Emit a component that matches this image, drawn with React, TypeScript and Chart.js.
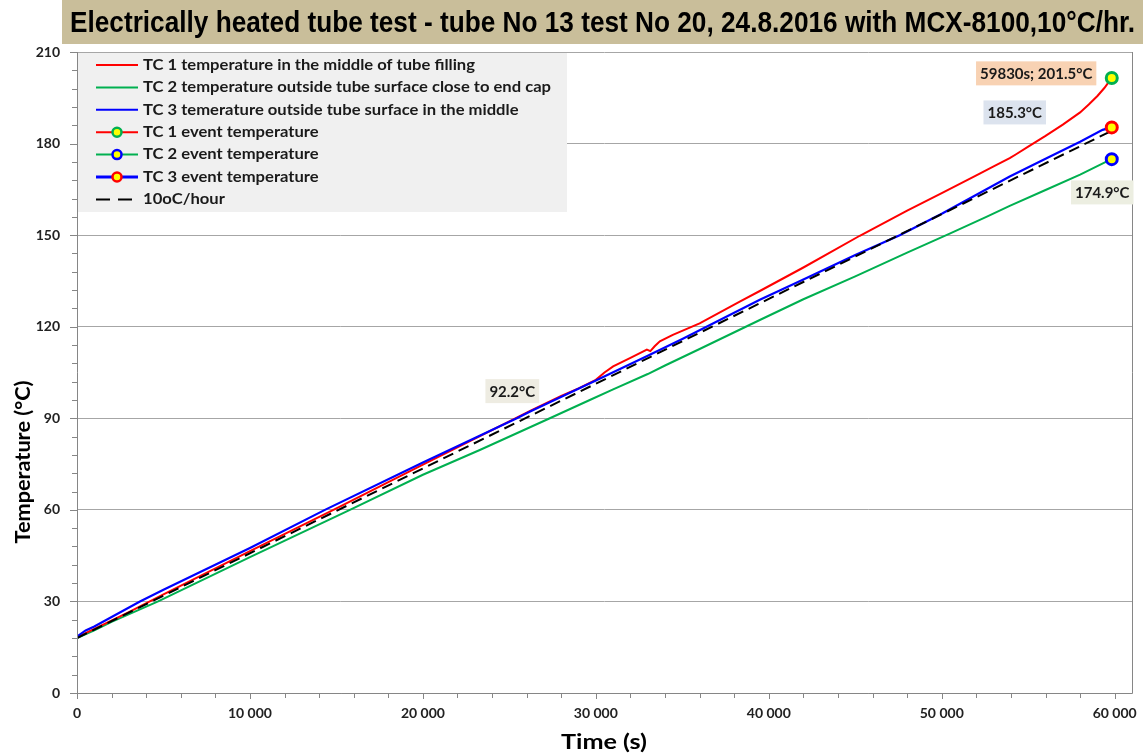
import React, { useEffect, useRef } from "react";
import { Chart, registerables } from "chart.js";

Chart.register(...registerables);

// ---------- data ----------
const TITLE = "Electrically heated tube test - tube No 13 test No 20, 24.8.2016 with MCX-8100,10°C/hr.";
const X_TITLE = "Time (s)";
const Y_TITLE = "Temperature (°C)";

const X_MIN = 0;
const X_MAX = 61000;
const X_TICKS = [0, 10000, 20000, 30000, 40000, 50000, 60000];
const X_MINOR = 2000;
const Y_MIN = 0;
const Y_MAX = 210;
const Y_TICKS = [0, 30, 60, 90, 120, 150, 180, 210];
const Y_MINOR = 6;

const TC1_TIME = [0, 1000, 3000, 5000, 10000, 15000, 20000, 25000, 26200, 28000, 29000, 30000, 30500, 31000, 32000, 32950, 33150, 33400, 33700, 34450, 36000, 38320, 39480, 42000, 45260, 48000, 50000, 52000, 53000, 53930, 54300, 55000, 56000, 57000, 58000, 58500, 59000, 59400, 59830];
const TC1_TEMP = [18.2, 21, 26.5, 32.3, 46.5, 60.5, 74.8, 89, 92.4, 97.3, 99.8, 102.6, 105, 107, 109.8, 112.5, 112.0, 113.6, 115.2, 117.3, 121.1, 128.2, 131.7, 139.4, 149.8, 158, 163.8, 169.6, 172.5, 175.2, 176.5, 179, 182.5, 186.2, 190.2, 192.8, 195.6, 198.2, 201.5];

const TC2_TIME = [0, 1000, 2000, 4690, 10000, 15780, 20000, 23290, 27340, 29650, 31000, 33000, 34000, 36000, 39480, 42000, 45000, 48000, 50460, 52580, 53930, 56000, 58000, 59520, 59830];
const TC2_TEMP = [18, 20.5, 23.3, 30, 44.5, 60, 71.5, 79.6, 90, 96, 99.5, 104.5, 107.3, 112.7, 122.2, 129, 136.5, 144.3, 150.5, 156, 159.6, 164.8, 169.8, 174.1, 174.9];

const TC3_TIME = [0, 500, 1000, 3640, 5000, 10000, 14335, 20000, 25430, 26200, 30000, 33000, 35000, 39480, 42000, 45000, 47570, 50000, 53930, 56000, 58000, 59300, 59830];
const TC3_TEMP = [18.5, 20.5, 21.8, 30, 33.8, 47.5, 60, 75.5, 90, 92.2, 102.4, 110.5, 116, 128.8, 135.5, 143.5, 150, 157, 169.2, 175, 180.6, 184.5, 185.3];

const EVENT_TIME = [59830];
const TC1_EVENT = [201.5];
const TC2_EVENT = [174.9];
const TC3_EVENT = [185.3];

const RATE_TIME = [0, 59830];
const RATE_TEMP = [18, 184.2];

const LEGEND_LABELS = [
  "TC 1 temperature in the middle of tube filling",
  "TC 2 temperature outside tube surface close to end cap",
  "TC 3 temerature outside tube surface in the middle",
  "TC 1 event temperature",
  "TC 2 event temperature",
  "TC 3 event temperature",
  "10oC/hour",
];

const NOTE_TEXTS = ["59830s; 201.5°C", "185.3°C", "174.9°C", "92.2°C"];
const NOTE_X = [55460, 54220, 59280, 25170];
const NOTE_Y = [203.0, 190.2, 164.0, 98.9];

// ---------- styles ----------
const RED = "#ff0000";
const GREEN = "#00b050";
const BLUE = "#0000ff";
const YELLOW = "#ffff00";
const NOTE_COLORS = ["#f8d2b3", "#dce3ee", "#eceee1", "#eeece2"];
const FONT = "Lato, 'Open Sans', sans-serif";

const pts = (xs: number[], ys: number[]) => xs.map((x, i) => ({ x, y: ys[i] }));
const fmt = (v: number) => String(v).replace(/\B(?=(\d{3})+(?!\d))/g, " ");

function fitText(ctx: CanvasRenderingContext2D, text: string, x: number, y: number, font: string, targetW: number, align: CanvasTextAlign) {
  ctx.save();
  ctx.font = font;
  const w = ctx.measureText(text).width;
  const sx = targetW / w;
  ctx.translate(x, y);
  ctx.scale(sx, 1);
  ctx.textAlign = align;
  ctx.fillText(text, 0, 0);
  ctx.restore();
}

const decor = {
  id: "decor",
  beforeDraw(chart: any) {
    const ctx: CanvasRenderingContext2D = chart.ctx;
    ctx.save();
    ctx.fillStyle = "#ffffff";
    ctx.fillRect(0, 0, chart.width, chart.height);
    ctx.fillStyle = "#c9be9a";
    ctx.fillRect(62, 0, chart.width - 62, 44);
    ctx.fillStyle = "#000000";
    ctx.textBaseline = "alphabetic";
    fitText(ctx, TITLE, 70, 32, "bold 29px 'Liberation Sans Narrow', 'Liberation Sans', Arial, sans-serif", 1065, "left");
    ctx.restore();
  },
  afterDraw(chart: any) {
    const ctx: CanvasRenderingContext2D = chart.ctx;
    const xs = chart.scales.x;
    const ys = chart.scales.y;
    const a = chart.chartArea;
    ctx.save();
    // axis lines & border
    ctx.strokeStyle = "#868686";
    ctx.lineWidth = 1;
    ctx.beginPath();
    ctx.moveTo(a.left + 0.5, a.top);
    ctx.lineTo(a.left + 0.5, a.bottom + 0.5);
    ctx.lineTo(a.right + 0.5, a.bottom + 0.5);
    ctx.moveTo(a.right + 0.5, a.top);
    ctx.lineTo(a.right + 0.5, a.bottom + 0.5);
    // ticks
    for (let v = Y_MIN; v <= Y_MAX; v += Y_MINOR) {
      const y = Math.round(ys.getPixelForValue(v)) + 0.5;
      const len = v % 30 === 0 ? 7 : 5;
      ctx.moveTo(a.left - len, y);
      ctx.lineTo(a.left, y);
    }
    for (let v = X_MIN; v <= X_TICKS[X_TICKS.length - 1]; v += X_MINOR) {
      const x = Math.round(xs.getPixelForValue(v)) + 0.5;
      const len = v % 10000 === 0 ? 6 : 5;
      ctx.moveTo(x, a.bottom);
      ctx.lineTo(x, a.bottom + len);
    }
    ctx.stroke();

    // axis titles
    ctx.fillStyle = "#000000";
    ctx.textBaseline = "middle";
    fitText(ctx, X_TITLE, 604, 742, `bold 21px ${FONT}`, 86, "center");
    ctx.save();
    ctx.translate(23, 462);
    ctx.rotate(-Math.PI / 2);
    fitText(ctx, Y_TITLE, 0, 0, `bold 21px ${FONT}`, 163, "center");
    ctx.restore();

    // legend
    const lx = 78, ly = 53, lw = 489, lh = 159;
    ctx.fillStyle = "#f0f0f0";
    ctx.fillRect(lx, ly, lw, lh);
    ctx.font = `bold 15px ${FONT}`;
    const sx = 332 / ctx.measureText(LEGEND_LABELS[0]).width;
    const lineCols = [RED, GREEN, BLUE, RED, GREEN, BLUE, "#000000"];
    const mkBorder = [null, null, null, GREEN, BLUE, RED, null];
    LEGEND_LABELS.forEach((lab, i) => {
      const cy = 65 + i * 22.4;
      ctx.strokeStyle = lineCols[i];
      ctx.lineWidth = i === 5 ? 3 : 2;
      ctx.beginPath();
      if (i === 6) {
        ctx.setLineDash([14, 8]);
        ctx.moveTo(96, cy);
        ctx.lineTo(133, cy);
      } else {
        ctx.setLineDash([]);
        ctx.moveTo(96, cy);
        ctx.lineTo(138, cy);
      }
      ctx.stroke();
      ctx.setLineDash([]);
      if (mkBorder[i]) {
        ctx.beginPath();
        ctx.arc(117, cy, 4.5, 0, Math.PI * 2);
        ctx.fillStyle = YELLOW;
        ctx.fill();
        ctx.lineWidth = 2.5;
        ctx.strokeStyle = mkBorder[i] as string;
        ctx.stroke();
      }
      ctx.fillStyle = "#1a1a1a";
      ctx.save();
      ctx.translate(143, cy);
      ctx.scale(sx, 1);
      ctx.textAlign = "left";
      ctx.textBaseline = "middle";
      ctx.fillText(lab, 0, 0);
      ctx.restore();
    });

    // annotations
    ctx.font = `bold 15px ${FONT}`;
    NOTE_TEXTS.forEach((t, i) => {
      const cx = xs.getPixelForValue(NOTE_X[i]);
      const cy = ys.getPixelForValue(NOTE_Y[i]);
      const w = ctx.measureText(t).width + 8;
      const h = 24;
      ctx.fillStyle = NOTE_COLORS[i];
      ctx.fillRect(cx - w / 2, cy - h / 2, w, h);
      ctx.fillStyle = "#1a1a1a";
      ctx.textAlign = "center";
      ctx.textBaseline = "middle";
      ctx.fillText(t, cx, cy + 1);
    });
    ctx.restore();
  },
};

export default function App() {
  const ref = useRef<HTMLCanvasElement | null>(null);
  useEffect(() => {
    document.body.style.margin = "0";
    Chart.defaults.font.family = FONT;
    const chart = new Chart(ref.current as HTMLCanvasElement, {
      type: "line",
      data: {
        datasets: [
          { label: LEGEND_LABELS[3], data: pts(EVENT_TIME, TC1_EVENT), showLine: false, pointRadius: 5.5, pointBackgroundColor: YELLOW, pointBorderColor: GREEN, pointBorderWidth: 3, borderColor: RED, order: 0 },
          { label: LEGEND_LABELS[4], data: pts(EVENT_TIME, TC2_EVENT), showLine: false, pointRadius: 5.5, pointBackgroundColor: YELLOW, pointBorderColor: BLUE, pointBorderWidth: 3, borderColor: GREEN, order: 0 },
          { label: LEGEND_LABELS[5], data: pts(EVENT_TIME, TC3_EVENT), showLine: false, pointRadius: 5.5, pointBackgroundColor: YELLOW, pointBorderColor: RED, pointBorderWidth: 3, borderColor: BLUE, order: 0 },
          { label: LEGEND_LABELS[6], data: pts(RATE_TIME, RATE_TEMP), borderColor: "#000000", borderWidth: 2, borderDash: [11, 6], pointRadius: 0, order: 1 },
          { label: LEGEND_LABELS[2], data: pts(TC3_TIME, TC3_TEMP), borderColor: BLUE, borderWidth: 2.2, pointRadius: 0, order: 2 },
          { label: LEGEND_LABELS[0], data: pts(TC1_TIME, TC1_TEMP), borderColor: RED, borderWidth: 2, pointRadius: 0, order: 3 },
          { label: LEGEND_LABELS[1], data: pts(TC2_TIME, TC2_TEMP), borderColor: GREEN, borderWidth: 2, pointRadius: 0, order: 4 },
        ],
      },
      options: {
        animation: false,
        responsive: true,
        maintainAspectRatio: false,
        layout: { padding: { top: 52, right: 11, left: 0, bottom: 0 } },
        plugins: { legend: { display: false }, tooltip: { enabled: false }, title: { display: false } },
        elements: { line: { tension: 0 } },
        scales: {
          x: {
            type: "linear",
            min: X_MIN,
            max: X_MAX,
            grid: { display: false, drawTicks: false },
            border: { display: false },
            afterBuildTicks: (s: any) => {
              s.ticks = X_TICKS.map((v) => ({ value: v }));
            },
            afterFit: (s: any) => {
              s.height = 60;
              s.paddingLeft = 0;
              s.paddingRight = 0;
            },
            ticks: {
              autoSkip: false,
              maxRotation: 0,
              padding: 12,
              color: "#222222",
              font: { family: FONT, size: 14, weight: "bold" },
              callback: (v: any) => fmt(Number(v)),
            },
          },
          y: {
            type: "linear",
            min: Y_MIN,
            max: Y_MAX,
            grid: { color: "#a6a6a6", lineWidth: 1, drawTicks: false },
            border: { display: false },
            afterBuildTicks: (s: any) => {
              s.ticks = Y_TICKS.map((v) => ({ value: v }));
            },
            afterFit: (s: any) => {
              s.width = 77;
              s.paddingTop = 0;
              s.paddingBottom = 0;
            },
            ticks: {
              autoSkip: false,
              padding: 17,
              color: "#222222",
              font: { family: FONT, size: 14, weight: "bold" },
            },
          },
        },
      },
      plugins: [decor],
    });
    return () => chart.destroy();
  }, []);
  return (
    <div style={{ position: "relative", width: 1143, height: 753 }}>
      <canvas ref={ref} />
    </div>
  );
}
